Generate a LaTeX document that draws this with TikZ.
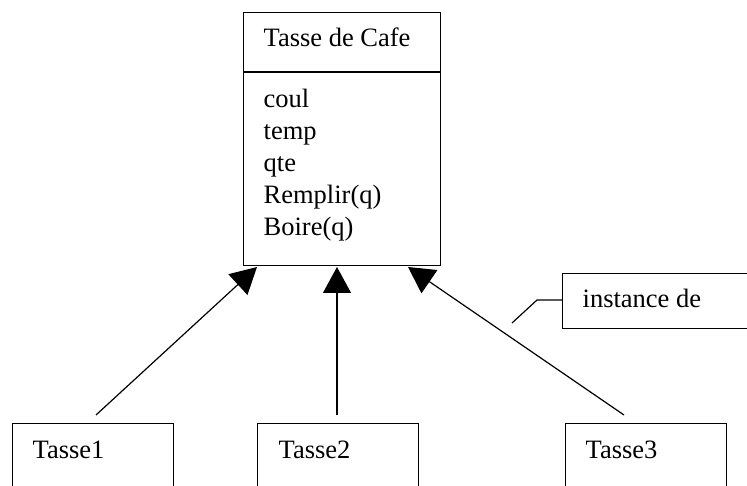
\documentclass[tikz,border=0pt]{standalone}
\usepackage{fontspec}
\setmainfont{Liberation Serif}
\usetikzlibrary{arrows.meta}
\begin{document}
\begin{tikzpicture}[x=1pt,y=-1pt,
  line width=1.3pt,
  box/.style={draw,rectangle,inner sep=0pt,anchor=north west},
  label/.style={inner sep=0pt,anchor=base west,font=\fontsize{26.5}{32}\selectfont},
  inherit/.style={-{Triangle[length=26pt,width=28pt]},line width=1.2pt},
  callout/.style={line width=1.2pt}]
\useasboundingbox (0,0) rectangle (747,486);
\clip (0,0) rectangle (747,486);

% class box with its name compartment
\node[box,minimum width=197pt,minimum height=253pt] (cls) at (243,12) {};
\draw (243,72) coordinate (dl) -- (440,72) coordinate (dr);
\node[label] (title) at (263,47) {Tasse de Cafe};
\node[label] (a1) at (263,108) {coul};
\node[label] (a2) at (263,140) {temp};
\node[label] (a3) at (263,172) {qte};
\node[label] (a4) at (263,204) {Remplir(q)};
\node[label] (a5) at (263,236) {Boire(q)};

% instances
\node[box,minimum width=161pt,minimum height=100pt] (t1) at (12,423) {};
\node[box,minimum width=161pt,minimum height=100pt] (t2) at (257,423) {};
\node[box,minimum width=161pt,minimum height=100pt] (t3) at (565,423) {};
\node[label] (l1) at (32,458) {Tasse1};
\node[label] (l2) at (278,458) {Tasse2};
\node[label] (l3) at (585,458) {Tasse3};

% "instance de" links
\coordinate (s1) at (96,415);
\coordinate (s2) at (337,415);
\coordinate (s3) at (624,415);
\coordinate (e1) at (257,267);
\coordinate (e2) at (337,267);
\coordinate (e3) at (408,267);
\draw[inherit] (s1) -- (e1);
\draw[inherit] (s2) -- (e2);
\draw[inherit] (s3) -- (e3);

% callout
\node[box,minimum width=200pt,minimum height=55pt] (note) at (562,273) {};
\node[label] (notetext) at (582,308) {instance de};
\coordinate (c0) at (562,300);
\coordinate (c1) at (537,300);
\coordinate (c2) at (512,323);
\draw[callout] (c0) -- (c1) -- (c2);
\end{tikzpicture}
\end{document}
